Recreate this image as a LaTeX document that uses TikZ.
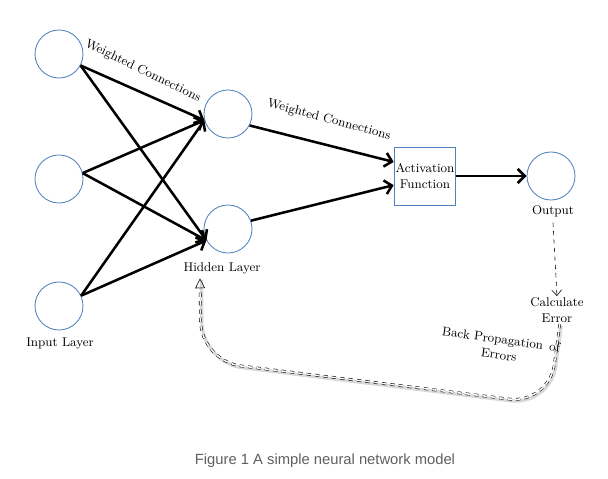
\documentclass[tikz,border=0pt]{standalone}
\usepackage{fontspec}
\newfontfamily\capfont{Liberation Sans}
\usetikzlibrary{arrows.meta}
\definecolor{nodeblue}{RGB}{79,129,189}
\definecolor{capgray}{RGB}{95,95,95}
\begin{document}
\begin{tikzpicture}[x=0.025cm, y=-0.025cm,
	neuron/.style={draw=nodeblue, line width=0.6pt, circle, fill=white, minimum size=1.2cm, inner sep=0pt},
	actbox/.style={draw=nodeblue, line width=0.6pt, rectangle, fill=white, minimum width=1.5cm, minimum height=1.45cm, inner sep=1pt, align=center, font=\small},
	lbl/.style={font=\small, align=center, inner sep=1pt},
	weight/.style={-{Straight Barb[length=5pt,width=10pt]}, line width=1.8pt},
	errline/.style={dashed, -{Straight Barb[length=4pt,width=7pt]}},
	backprop/.style={double=white, double distance=1.1pt, dashed, rounded corners=1cm, -{Triangle[open,length=7pt,width=7pt]}}]
	\useasboundingbox (0,0) rectangle (608,479);

	% Input layer
	\node[neuron] (in1) at (59,54) {};
	\node[neuron] (in2) at (59,179) {};
	\node[neuron] (in3) at (59,306) {};
	\node[lbl] (inlbl) at (60,343) {Input Layer};

	% Hidden layer
	\node[neuron] (h1) at (228,114) {};
	\node[neuron] (h2) at (228,229) {};
	\node[lbl] (hidlbl) at (222,268) {Hidden Layer};

	% Weighted connections input -> hidden
	\foreach \i/\a in {in1/-28, in2/14, in3/25} {
		\draw[weight] (\i.\a) -- (h1.195);
		\draw[weight] (\i.\a) -- (h2.208);
	}
	\node[lbl, rotate=-26] (w1) at (143,71) {Weighted Connections};

	% Activation function
	\node[actbox] (act) at (425,176) {Activation\\Function};
	\draw[weight] (h1.-28) -- ([yshift=10pt]act.west);
	\draw[weight] (h2.20) -- ([yshift=-6.5pt]act.west);
	\node[lbl, rotate=-15] (w2) at (329,120) {Weighted Connections};

	% Output
	\node[neuron] (out) at (551,176) {};
	\node[lbl] (outlbl) at (553,211) {Output};
	\draw[weight] (act.east) -- (out.west);

	% Error
	\node[lbl] (calc) at (557,310) {Calculate\\Error};
	\draw[errline] ([yshift=-3pt]outlbl.south) -- (calc.north);

	% Back propagation
	\draw[backprop, preaction={draw=gray!30, solid, -, line width=2.4pt, transform canvas={shift={(1pt,-1.2pt)}}}]
		([xshift=2pt]calc.south) -- (549,404) -- (201,361) -- ([shift={(-22,3)}]hidlbl.south);
	\node[lbl, rotate=-8] (bplbl) at (500,347) {Back Propagation\enspace of\\Errors};

	% Caption
	\node[font=\capfont\fontsize{10.5}{12}\selectfont, text=capgray] (cap) at (325,461) {Figure 1 A simple neural network model};
\end{tikzpicture}
\end{document}
